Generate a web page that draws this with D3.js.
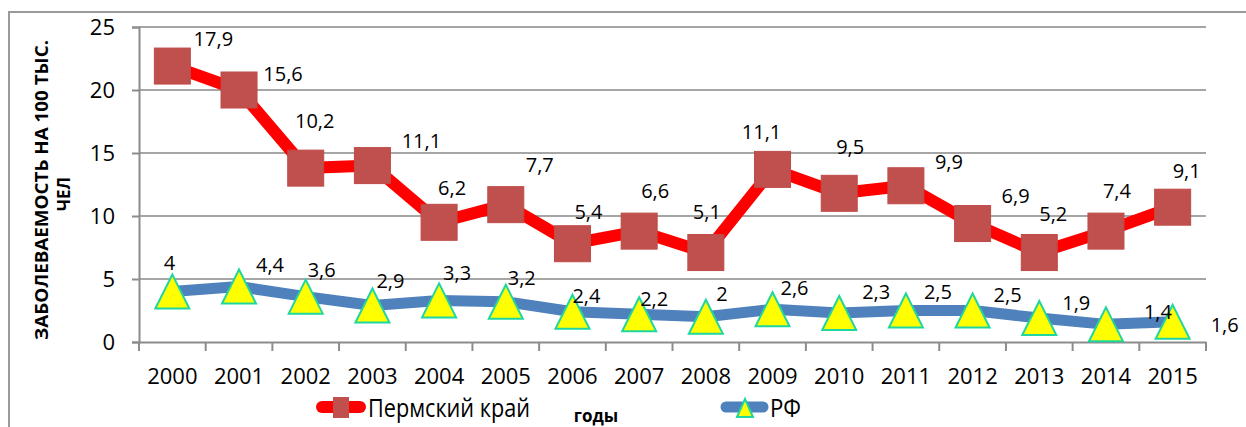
<!DOCTYPE html>
<html><head><meta charset="utf-8">
<script src="https://cdn.jsdelivr.net/npm/d3@7"></script>
<style>html,body{margin:0;padding:0;background:#fff;}svg{display:block;font-family:"Open Sans",sans-serif;}</style>
</head><body>
<svg id="c" width="1246" height="427"></svg>
<script>
const years = ["2000","2001","2002","2003","2004","2005","2006","2007","2008","2009","2010","2011","2012","2013","2014","2015"];
const permValues = [17.9,15.6,10.2,11.1,6.2,7.7,5.4,6.6,5.1,11.1,9.5,9.9,6.9,5.2,7.4,9.1];
const rfValues = [4,4.4,3.6,2.9,3.3,3.2,2.4,2.2,2,2.6,2.3,2.5,2.5,1.9,1.4,1.6];
const yTicks = [0,5,10,15,20,25];
const seriesNames = ["Пермский край","РФ"];
const yTitle = ["ЗАБОЛЕВАЕМОСТЬ НА 100 ТЫС.","ЧЕЛ"];
const xTitle = "годы";
// label nudges (style, px)
const permLabelDx = [41,44,9,49,13,34,16,16,1,-11,11,43,43,14,11,14];
const permLabelDy = [-28,-17,-48,-25,-35,-40,-32,-41,-41,-38,-47,-24,-28,-39,-41,-37];
const rfLabelDx = [-3,31,16,18,18,16,14,15,16,22,37,32,35,37,52,52];
const rfLabelDy = [-29,-22,-27,-25,-28,-24,-16,-16,-23,-22,-22,-19,-16,-16,-13,3];

const fmt = v => String(v).replace(".", ",");
const svg = d3.select("#c");
const m = {left:139, right:1206, top:27, bottom:342};

const table = years.map((y,i)=>({year:y, rf:rfValues[i], perm:permValues[i]}));
const stacked = d3.stack().keys(["rf","perm"])(table);

const x = d3.scaleBand().domain(years).range([m.left, m.right]);
const y = d3.scaleLinear().domain([0,25]).range([m.bottom, m.top]);
const cx = d => x(d) + x.bandwidth()/2;

// frame
svg.append("path").attr("d","M9,430 L9,12 L1250,12").attr("fill","none").attr("stroke","#9a9a9a").attr("stroke-width",2);

// gridlines
svg.append("g").selectAll("line").data(yTicks.filter(t=>t>0)).join("line")
  .attr("x1",m.left).attr("x2",m.right).attr("y1",d=>y(d)).attr("y2",d=>y(d))
  .attr("stroke","#a6a6a6").attr("stroke-width",2);

// y axis
const ya = svg.append("g").attr("transform",`translate(${m.left},0)`)
  .call(d3.axisLeft(y).tickValues(yTicks).tickSize(7).tickPadding(17));
ya.select(".domain").attr("stroke","#8c8c8c").attr("stroke-width",2);
ya.selectAll(".tick line").attr("stroke","#8c8c8c").attr("stroke-width",2);
ya.selectAll(".tick text").attr("font-size",22).attr("fill","#000").attr("font-family","Open Sans").attr("dy","0.36em");

// x axis
const xa = svg.append("g").attr("transform",`translate(0,${m.bottom})`)
  .call(d3.axisBottom(x).tickSize(0).tickPadding(26));
xa.select(".domain").attr("stroke","#8c8c8c").attr("stroke-width",2);
xa.selectAll(".tick text").attr("font-size",22).attr("fill","#000").attr("font-family","Open Sans");
svg.append("g").selectAll("line").data(d3.range(years.length+1)).join("line")
  .attr("x1",i=>m.left + i*x.step()).attr("x2",i=>m.left + i*x.step())
  .attr("y1",m.bottom).attr("y2",m.bottom+9).attr("stroke","#8c8c8c").attr("stroke-width",2);

// lines
const line = d3.line().x(d=>cx(d.data.year)).y(d=>y(d[1]));
svg.append("path").datum(stacked[0]).attr("d",line).attr("fill","none")
  .attr("stroke","#4f81bd").attr("stroke-width",11).attr("stroke-linejoin","round").attr("stroke-linecap","round");
svg.append("path").datum(stacked[1]).attr("d",line).attr("fill","none")
  .attr("stroke","#ff0000").attr("stroke-width",12).attr("stroke-linejoin","round").attr("stroke-linecap","round");

// markers
const sq = 36;
svg.append("g").selectAll("rect").data(stacked[1]).join("rect")
  .attr("x",d=>cx(d.data.year)-sq/2).attr("y",d=>y(d[1])-sq/2).attr("width",sq).attr("height",sq)
  .attr("fill","#c0504d").attr("stroke","#be4b48").attr("stroke-width",1);
const tri = (px,py,w,h)=>`M${px},${py-h/2} L${px+w/2},${py+h/2} L${px-w/2},${py+h/2} Z`;
svg.append("g").selectAll("path").data(stacked[0]).join("path")
  .attr("d",d=>tri(cx(d.data.year), y(d[1]), 34, 34))
  .attr("fill","#ffff00").attr("stroke","#1fd6a0").attr("stroke-width",2).attr("stroke-linejoin","miter");

// labels
svg.append("g").selectAll("text").data(stacked[1]).join("text")
  .attr("x",(d,i)=>cx(d.data.year)+permLabelDx[i]).attr("y",(d,i)=>y(d[1])+permLabelDy[i])
  .attr("text-anchor","middle").attr("dominant-baseline","central").attr("font-size",20)
  .text((d,i)=>fmt(permValues[i]));
svg.append("g").selectAll("text").data(stacked[0]).join("text")
  .attr("x",(d,i)=>cx(d.data.year)+rfLabelDx[i]).attr("y",(d,i)=>y(d[1])+rfLabelDy[i])
  .attr("text-anchor","middle").attr("dominant-baseline","central").attr("font-size",20)
  .text((d,i)=>fmt(rfValues[i]));

// y title
const yt = svg.append("text").attr("transform","translate(48,190) rotate(-90)")
  .attr("text-anchor","middle").attr("font-weight","bold").attr("font-size",17);
yt.append("tspan").attr("x",0).attr("y",0).attr("textLength",300).attr("lengthAdjust","spacingAndGlyphs").text(yTitle[0]);
yt.append("tspan").attr("x",-4).attr("y",22).text(yTitle[1]);

// x title
svg.append("text").attr("x",596).attr("y",422).attr("text-anchor","middle")
  .attr("font-weight","bold").attr("font-size",17).text(xTitle);

// legend
const lg1 = svg.append("g");
lg1.append("line").attr("x1",322).attr("x2",360).attr("y1",407).attr("y2",407)
  .attr("stroke","#ff0000").attr("stroke-width",12).attr("stroke-linecap","round");
lg1.append("rect").attr("x",333).attr("y",397).attr("width",16).attr("height",21).attr("fill","#c0504d");
lg1.append("text").attr("x",368).attr("y",417).attr("font-size",26)
  .attr("textLength",162).attr("lengthAdjust","spacingAndGlyphs").text(seriesNames[0]);
const lg2 = svg.append("g");
lg2.append("line").attr("x1",726).attr("x2",763).attr("y1",407).attr("y2",407)
  .attr("stroke","#4f81bd").attr("stroke-width",11).attr("stroke-linecap","round");
lg2.append("path").attr("d",tri(745,408,16,18)).attr("fill","#ffff00").attr("stroke","#1fd6a0").attr("stroke-width",2);
lg2.append("text").attr("x",770).attr("y",417).attr("font-size",26)
  .attr("textLength",31).attr("lengthAdjust","spacingAndGlyphs").text(seriesNames[1]);
</script>
</body></html>
